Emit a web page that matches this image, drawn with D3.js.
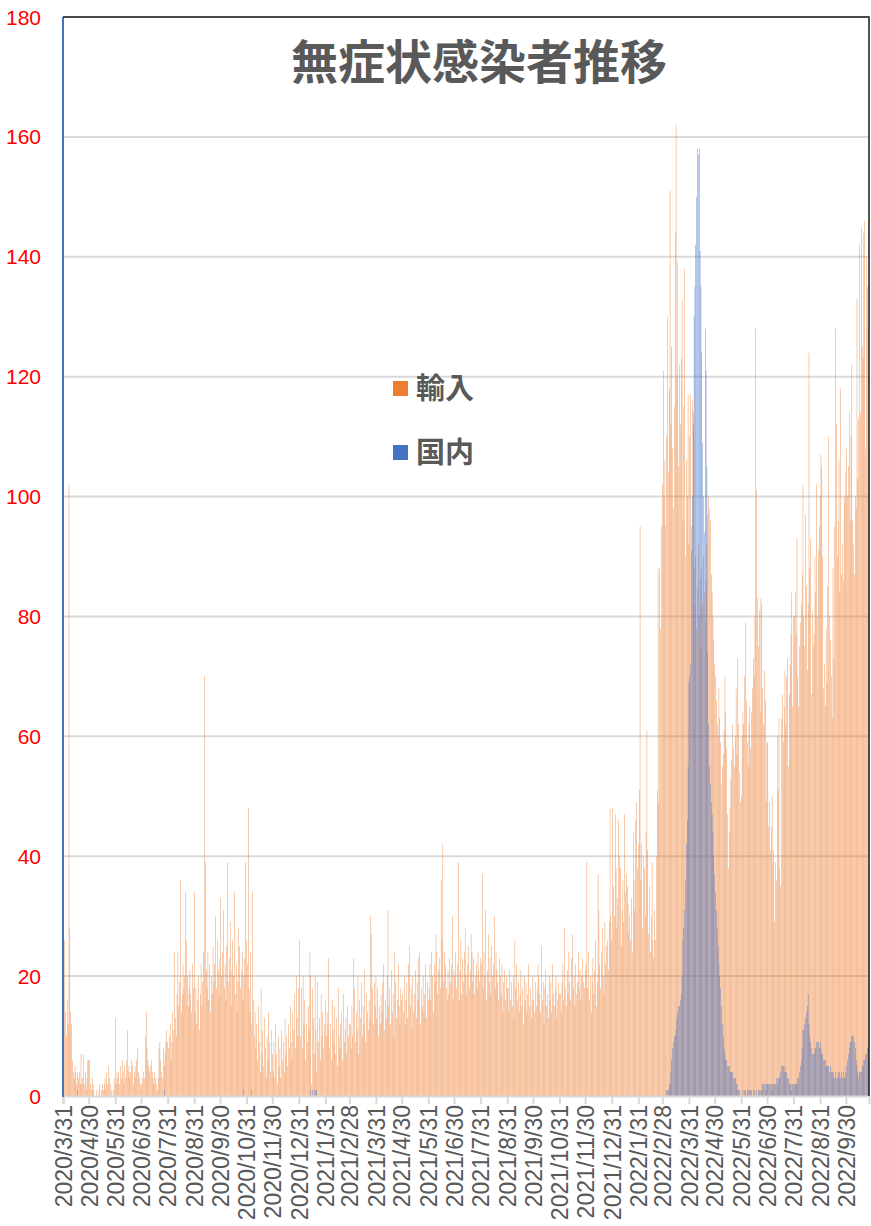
<!DOCTYPE html>
<html>
<head>
<meta charset="utf-8">
<script src="https://cdn.jsdelivr.net/npm/d3@7"></script>
<style>
  body { margin: 0; background: #fff; }
</style>
</head>
<body>
<div id="chart"></div>
<script>
// Daily values, first day 2020/3/31 (one row per month)
const startDate = "2020-03-31"
const importCases = [
  10,
  16,26,14,10,16,12,102,28,14,12,6,4,3,5,4,2,4,3,4,2,7,2,3,7,2,4,1,3,6,6,
  6,2,1,3,2,1,0,0,1,0,0,1,2,0,1,2,1,2,3,1,4,2,5,3,2,0,1,0,1,3,13,
  2,4,3,4,2,5,3,6,4,2,5,3,6,11,4,5,3,4,6,5,2,4,3,5,6,8,4,3,2,1,
  2,3,4,3,10,14,8,6,5,4,5,6,4,3,2,4,3,2,1,3,8,9,6,4,3,8,5,7,9,11,9,
  8,10,12,6,9,14,11,24,13,10,17,24,15,19,36,14,17,22,18,20,34,26,20,15,18,21,17,14,22,18,34,
  14,18,12,16,20,11,17,22,15,19,24,70,39,21,18,24,16,22,14,20,17,25,19,22,30,18,26,21,17,23,
  33,20,24,31,18,22,16,25,39,19,23,29,15,21,26,20,34,17,22,14,19,28,25,18,21,24,16,20,23,39,26,
  22,48,18,14,24,12,34,16,10,14,8,12,6,15,9,4,18,7,11,5,13,8,3,10,6,14,9,4,11,7,
  4,9,3,12,7,2,10,5,8,3,11,6,9,4,13,7,10,5,12,8,15,9,6,14,11,17,8,20,13,10,18,
  26,10,18,8,20,12,16,6,12,9,15,11,24,20,2,18,13,7,20,11,4,19,9,13,6,17,10,14,8,12,16,
  10,14,12,23,8,12,6,16,11,9,15,7,13,5,18,10,8,12,14,6,17,9,11,13,7,15,10,12,
  12,8,15,10,23,18,9,14,11,20,7,16,13,19,10,15,12,21,9,17,14,11,16,13,30,27,18,12,19,15,20,
  13,18,10,15,12,17,14,19,22,11,16,13,20,31,15,18,12,21,14,17,10,24,19,13,16,22,15,12,18,16,
  17,14,20,12,16,19,13,22,25,15,18,11,20,14,17,21,13,19,16,23,24,12,18,15,20,14,17,22,13,19,16,
  18,22,16,24,20,14,22,19,27,24,17,21,23,18,36,26,42,19,24,22,18,16,21,17,23,19,22,30,16,21,
  20,24,18,22,39,16,21,26,17,23,19,24,28,20,17,22,25,18,21,27,24,19,23,17,20,22,18,24,21,19,23,
  22,37,18,24,20,31,16,21,27,19,23,17,25,20,22,30,18,24,21,19,16,23,20,17,22,14,19,21,16,20,18,
  18,14,21,16,19,15,20,13,26,18,22,16,19,14,17,21,15,18,12,20,16,19,14,17,22,15,18,13,16,20,
  16,14,19,15,18,22,20,17,14,25,16,19,12,18,21,15,17,13,20,16,19,14,22,17,15,18,20,13,16,19,17,
  17,14,19,22,16,28,18,15,21,17,24,19,16,23,27,18,20,15,22,17,19,24,18,21,16,20,23,19,18,21,
  22,39,18,24,16,20,14,19,23,17,21,26,15,19,37,31,22,18,24,28,20,17,29,22,25,26,21,29,48,30,26,
  48,35,30,47,38,28,33,46,40,38,25,31,36,29,47,34,37,35,32,27,30,26,33,24,44,36,31,46,49,38,42,
  51,95,36,42,28,40,38,30,44,61,41,27,35,24,30,39,26,23,31,26,40,51,88,49,88,78,95,102,
  121,100,106,95,110,130,104,118,151,112,125,108,98,115,144,162,120,139,105,122,112,123,133,96,115,138,90,106,100,117,92,
  110,117,95,116,114,88,82,90,78,85,92,80,86,75,88,82,90,84,79,86,92,97,100,98,96,87,84,80,76,72,
  70,66,62,60,68,63,59,52,55,57,61,70,64,58,47,38,44,48,53,56,62,58,55,60,68,57,73,62,54,49,50,
  60,64,62,70,79,66,59,55,62,65,58,64,68,73,70,80,128,101,83,75,81,64,83,82,68,62,71,66,49,59,
  59,45,49,41,45,50,39,41,29,39,36,60,51,63,38,35,63,67,59,65,71,62,70,73,55,67,72,77,84,65,80,
  80,84,77,93,70,65,75,79,82,87,102,80,75,97,85,71,82,124,88,93,67,81,75,77,90,84,102,80,91,95,100,
  107,105,90,68,72,65,78,69,85,110,80,76,70,63,88,73,95,128,112,90,96,106,84,118,87,92,86,100,99,104,
  108,100,105,114,96,110,122,96,92,87,100,98,133,103,113,142,114,145,125,123,144,146,108,140,135,128,120
]

// Domestic: a few single cases early on, then daily values from 2022/3/1
const domesticEarly = [
  ["2020-04-17", 1], ["2020-07-27", 1], ["2020-10-27", 1], ["2020-11-06", 1],
  ["2021-01-14", 1], ["2021-01-16", 1], ["2021-01-18", 1], ["2021-01-20", 1], ["2021-01-21", 1]
]
const domesticStart = "2022-03-01"
const domesticCases = [
  0,0,0,0,1,1,1,2,2,4,6,8,9,10,10,11,13,14,15,15,16,17,20,26,28,31,36,42,46,55,69,
  70,72,91,100,112,130,135,142,150,158,157,158,141,135,124,109,100,94,128,121,105,74,62,55,52,49,47,44,40,37,
  34,31,28,25,22,20,18,15,12,10,8,7,6,6,5,5,5,4,4,4,4,3,3,3,2,2,1,1,1,0,0,
  0,1,0,1,1,0,1,1,0,1,1,1,0,1,1,0,0,1,0,1,1,0,1,1,2,2,2,1,2,2,
  2,2,2,2,2,1,2,2,2,2,3,2,3,3,3,4,5,5,5,4,5,4,4,3,3,2,2,2,1,2,2,
  2,2,2,2,3,3,4,5,6,8,11,11,12,13,14,15,17,12,10,9,8,7,7,7,8,8,9,9,9,8,9,
  8,7,7,6,6,6,5,5,5,5,4,5,4,4,4,3,3,4,3,3,4,3,4,3,4,3,4,3,3,4,
  5,6,7,8,9,9,10,10,10,9,8,6,5,4,3,4,4,4,5,5,6,6,7,7,8,8,9
]

const tickLabels = [
  "2020/3/31","2020/4/30","2020/5/31","2020/6/30","2020/7/31","2020/8/31","2020/9/30",
  "2020/10/31","2020/11/30","2020/12/31","2021/1/31","2021/2/28","2021/3/31","2021/4/30",
  "2021/5/31","2021/6/30","2021/7/31","2021/8/31","2021/9/30","2021/10/31","2021/11/30",
  "2021/12/31","2022/1/31","2022/2/28","2022/3/31","2022/4/30","2022/5/31","2022/6/30",
  "2022/7/31","2022/8/31","2022/9/30"
]
const yTicks = [0, 20, 40, 60, 80, 100, 120, 140, 160, 180]
const seriesNames = ["輸入", "国内"]
const seriesColors = ["#ED7D31", "#4472C4"]

// Chart frame
const W = 871, H = 1226
const plot = {left: 63, right: 869, top: 17, bottom: 1096}

const parseDay = d3.timeParse("%Y-%m-%d")
const parseTick = d3.timeParse("%Y/%m/%d")
const t0 = parseDay(startDate)

const importData = importCases.map((v, i) => ({date: d3.timeDay.offset(t0, i), value: v}))
const d0 = parseDay(domesticStart)
const domesticData = domesticEarly.map(d => ({date: parseDay(d[0]), value: d[1]}))
    .concat(domesticCases.map((v, i) => ({date: d3.timeDay.offset(d0, i), value: v})))

const lastDay = importData[importData.length - 1].date

const x = d3.scaleTime()
    .domain([t0, lastDay])
    .range([plot.left, plot.right])
const y = d3.scaleLinear()
    .domain([0, 180])
    .range([plot.bottom, plot.top])

const svg = d3.select("#chart").append("svg")
    .attr("width", W)
    .attr("height", H)
    .style("font-family", "'Liberation Sans', Arial, sans-serif")

svg.append("defs").append("clipPath")
    .attr("id", "plot-clip")
    .append("rect")
    .attr("x", plot.left)
    .attr("y", plot.top)
    .attr("width", plot.right - plot.left)
    .attr("height", plot.bottom - plot.top)

// Gridlines
svg.append("g")
    .selectAll("line")
    .data(yTicks.slice(1))
    .join("line")
    .attr("x1", plot.left)
    .attr("x2", plot.right)
    .attr("y1", d => y(d))
    .attr("y2", d => y(d))
    .attr("stroke", "#D9D9D9")
    .attr("stroke-width", 2)

// thin bars: antialiasing gives the light peach look of the original
const barW = 0.4

const bars = svg.append("g").attr("clip-path", "url(#plot-clip)")

bars.append("g")
    .selectAll("rect")
    .data(importData)
    .join("rect")
    .attr("x", d => x(d.date) - barW / 2)
    .attr("y", d => y(d.value))
    .attr("width", barW)
    .attr("height", d => y(0) - y(d.value))
    .attr("fill", seriesColors[0])

bars.append("g")
    .selectAll("rect")
    .data(domesticData)
    .join("rect")
    .attr("x", d => x(d.date) - barW / 2)
    .attr("y", d => y(d.value))
    .attr("width", barW)
    .attr("height", d => y(0) - y(d.value))
    .attr("fill", seriesColors[1])

// X axis
const xAxis = d3.axisBottom(x)
    .tickValues(tickLabels.map(parseTick))
    .tickSize(8)
    .tickFormat(d3.timeFormat("%Y/%-m/%-d"))

svg.append("g")
    .attr("transform", "translate(0," + plot.bottom + ")")
    .call(xAxis)
    .call(g => g.select(".domain").attr("stroke", "#D9D9D9").attr("stroke-width", 2))
    .call(g => g.selectAll(".tick line").attr("stroke", "#D9D9D9").attr("stroke-width", 2))
    .call(g => g.selectAll(".tick text")
        .attr("fill", "#595959")
        .attr("font-size", 23)
        .attr("font-family", "'Liberation Sans', Arial, sans-serif")
        .attr("text-anchor", "end")
        .attr("transform", "rotate(-90)")
        .attr("x", -9)
        .attr("y", 0)
        .attr("dy", "0.36em"))

// Y axis labels (red) and blue axis line
svg.append("g")
    .selectAll("text")
    .data(yTicks)
    .join("text")
    .attr("x", 41)
    .attr("y", d => y(d))
    .attr("dy", "0.36em")
    .attr("text-anchor", "end")
    .attr("fill", "#FF0000")
    .attr("font-size", 21)
    .text(d => d)

svg.append("line")
    .attr("x1", plot.left).attr("x2", plot.left)
    .attr("y1", plot.top).attr("y2", plot.bottom + 1)
    .attr("stroke", "#4472C4")
    .attr("stroke-width", 2)

// Frame on top and right
svg.append("path")
    .attr("d", `M${plot.left},${plot.top}H${plot.right}V${plot.bottom}`)
    .attr("fill", "none")
    .attr("stroke", "#1a1a1a")
    .attr("stroke-width", 1.5)

// Title
svg.append("text")
    .attr("x", 479)
    .attr("y", 79)
    .attr("text-anchor", "middle")
    .attr("fill", "#595959")
    .attr("font-size", 47)
    .attr("font-weight", "bold")
    .attr("font-family", "'Noto Sans CJK JP', sans-serif")
    .text("無症状感染者推移")

// Legend
const legend = svg.append("g")
    .selectAll("g")
    .data(seriesNames)
    .join("g")
    .attr("transform", (d, i) => `translate(393,${389 + i * 64})`)

legend.append("rect")
    .attr("x", 0)
    .attr("y", -8)
    .attr("width", 15)
    .attr("height", 15)
    .attr("fill", (d, i) => seriesColors[i])

legend.append("text")
    .attr("x", 23)
    .attr("y", 0)
    .attr("dy", "0.36em")
    .attr("fill", "#595959")
    .attr("font-size", 29)
    .attr("font-weight", "bold")
    .attr("font-family", "'Noto Sans CJK JP', sans-serif")
    .text(d => d)
</script>
</body>
</html>
